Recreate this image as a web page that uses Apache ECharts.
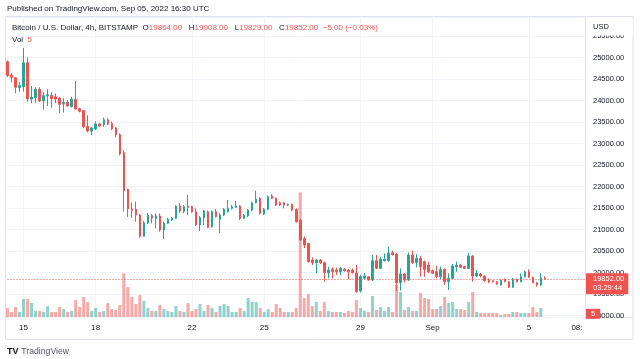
<!DOCTYPE html>
<html><head><meta charset="utf-8">
<script src="https://cdn.jsdelivr.net/npm/echarts@6/dist/echarts.min.js"></script>
<style>html,body{margin:0;padding:0;background:#fff}#c{width:640px;height:359px}</style>
</head><body><div id="c"></div>
<script>
// 4h candles, Bitstamp BTC/USD, from 2022-08-14 08:00 UTC to 2022-09-05 16:00 UTC
const opens=[24902,24593,24530,24297,24321,24879,24035,24065,24260,23995,
24112,24121,24088,24051,23918,23965,23856,24028,23809,23763,
23400,23291,23337,23453,23437,23553,23470,23360,23204,22786,
21935,21477,21465,21337,20842,21158,21321,21256,21314,20988,
21144,21221,21260,21546,21423,21546,21530,21414,21104,21274,
21414,21065,21414,21237,21337,21414,21493,21516,21546,21260,
21314,21453,21623,21725,21360,21470,21779,21725,21623,21623,
21569,21586,21470,21221,20790,20679,20290,20228,20290,20228,
19995,20074,20058,20018,20081,20058,20058,19988,19570,19865,
19902,19826,20274,20097,20274,20274,20460,20430,19763,19965,
19826,20407,20228,20330,20251,20174,20042,20018,19902,20074,
19786,19865,20135,20174,20135,20097,20384,19918,19965,19918,
19826,19809,19786,19709,19842,19786,19655,19842,19786,19902,
20018,19888,19763,19709,19864];
const closes=[24577,24539,24307,24344,24879,24035,24081,24260,23988,24112,
24135,24042,24035,23911,23958,23872,24028,23802,23749,23391,
23291,23360,23453,23407,23553,23453,23344,23204,22756,21902,
21477,21446,21337,20842,21158,21330,21267,21314,20988,21144,
21237,21260,21546,21430,21530,21516,21414,21104,21274,21430,
21046,21414,21298,21337,21470,21493,21530,21546,21260,21337,
21453,21623,21702,21377,21470,21763,21725,21569,21569,21569,
21586,21453,21181,20756,20639,20251,20228,20290,20228,19995,
20058,20018,20018,20097,20042,20018,19995,19553,19907,19918,
19826,20274,20097,20314,20314,20453,20414,19763,19965,19826,
20407,20228,20330,20135,20074,20018,19981,19902,20074,19786,
19865,20151,20174,20121,20097,20384,19918,19981,19918,19809,
19786,19786,19732,19826,19786,19655,19842,19786,19902,20018,
19888,19763,19709,19865,19852];
const lows=[24546,24423,24167,24204,24204,23972,23935,23949,23965,23795,
23872,23832,23935,23702,23716,23856,23842,23779,23725,23353,
23260,23197,23314,23384,23391,23430,23314,23144,22725,21414,
21290,21267,21181,20809,20830,21128,21144,21028,20949,20779,
21128,21197,21244,21391,21377,21337,21391,21081,20965,21104,
21028,21046,21279,20918,21314,21395,21465,21500,21221,21244,
21291,21430,21604,21349,21337,21453,21709,21546,21546,21493,
21546,21430,21162,20732,20570,20232,20174,19981,20197,19786,
19865,19865,19942,19942,20023,19842,19976,19535,19535,19826,
19809,19802,20074,20081,20256,20256,20395,19570,19577,19763,
19802,20197,20121,19902,19902,19981,19965,19865,19842,19709,
19593,19849,20018,20104,20081,20081,19786,19888,19888,19790,
19749,19767,19716,19693,19772,19639,19639,19767,19772,19888,
19872,19749,19670,19686,19829];
const highs=[24930,24632,24546,24430,25221,25005,24337,24307,24307,24204,
24260,24191,24167,24088,24051,24011,24088,24453,23832,23779,
23656,23384,23516,23477,23600,23586,23507,23384,23237,22849,
21942,21628,21651,21360,21197,21384,21360,21372,21372,21181,
21267,21291,21569,21609,21569,21802,21558,21493,21314,21453,
21442,21442,21477,21372,21500,21686,21569,21670,21569,21360,
21477,21646,21902,21756,21500,21791,21825,21744,21651,21639,
21604,21604,21488,21244,20837,20686,20353,20314,20314,20256,
20135,20121,20111,20135,20104,20081,20093,20174,19942,19981,
19918,20407,20407,20372,20442,20600,20507,20453,20097,19988,
20465,20507,20430,20384,20279,20251,20070,20151,20135,20093,
19981,20197,20251,20197,20151,20460,20407,20058,19988,19930,
19865,19826,19802,19837,19860,19802,19872,19860,19981,20046,
20074,19907,19779,19981,19908];
const volumes=[270,150,300,150,540,540,420,180,180,150,
330,150,150,300,240,150,180,510,300,600,
450,180,270,150,180,420,240,210,360,1320,
900,600,390,660,480,270,180,180,360,240,
180,150,330,180,150,420,180,240,390,180,
360,270,150,330,390,330,150,150,270,180,
570,450,450,270,150,240,150,390,270,150,
150,150,270,3750,570,690,330,450,180,450,
180,150,150,150,120,180,150,510,270,180,
150,630,210,300,180,300,150,960,750,210,
300,180,180,720,570,540,240,240,330,600,
420,450,240,240,210,450,750,150,120,120,
120,120,120,60,90,90,150,150,120,120,
120,300,150,270,5];
const tickIndex=[4,22,46,64,88,106,130,142];
const tickText=['15','18','22','25','29','Sep','5','08:'];
const lastPrice=19852, lastVolume=5, countdown='03:29:44';
const legendO=19864, legendH=19908, legendL=19829, legendC=19852, legendChg='\u22125.00 (\u22120.03%)';

const categories=[];
const startUTC=Date.UTC(2022,7,14,8);
for(let k=0;k<145;k++){const d=new Date(startUTC+k*4*3600000);categories.push(d.toISOString().slice(0,16).replace('T',' '));}
const candleData=opens.map((o,i)=>[o,closes[i],lows[i],highs[i]]);
const volData=volumes.map((v,i)=>({value:v,itemStyle:{color:closes[i]>=opens[i]?'rgba(38,166,154,0.5)':'rgba(239,83,80,0.5)'}}));

const FONT='"Liberation Sans", Arial, sans-serif';
const UP='#26a69a', DOWN='#ef5350', TXT='#131722', GRID='#f0f3fa', BORDER='#e0e3eb';

const chart=echarts.init(document.getElementById('c'),null,{renderer:'canvas'});
chart.setOption({
  animation:false,
  grid:{left:7.5,right:55,top:17,bottom:42,containLabel:false,outerBoundsMode:'none'},
  xAxis:{type:'category',data:categories,boundaryGap:false,
    axisLine:{show:false},axisTick:{show:false},
    axisLabel:{interval:(i)=>tickIndex.indexOf(i)>=0,
      formatter:(v)=>{const k=tickIndex.indexOf(categories.indexOf(v));return k>=0?tickText[k]:'';},
      color:TXT,fontSize:8,fontFamily:FONT,margin:7},
    splitLine:{show:true,interval:(i)=>tickIndex.indexOf(i)>=0&&i<=134,lineStyle:{color:GRID,width:1}}},
  yAxis:[{type:'value',position:'right',min:18965,max:25942,splitNumber:14,
    axisLine:{show:true,lineStyle:{color:BORDER}},axisTick:{show:false},
    axisLabel:{formatter:(v)=>(Math.abs(v%500)<1e-6?v.toFixed(2):''),color:TXT,fontSize:7.5,fontFamily:FONT,margin:8,showMinLabel:true,showMaxLabel:true},
    splitLine:{show:true,lineStyle:{color:GRID,width:1}}},
   {type:'value',min:0,max:9030,show:false,splitLine:{show:false}}],
  series:[
   {type:'bar',yAxisIndex:1,data:volData,barWidth:3,silent:true,z:1,
    markLine:{symbol:['none','none'],silent:true,animation:false,z:20,
      data:[{yAxis:lastVolume}],lineStyle:{color:'rgba(0,0,0,0)',width:0},
      label:{show:true,position:'end',distance:1,formatter:String(lastVolume),
        color:'#fff',backgroundColor:DOWN,padding:[1,5,1,5],fontSize:7.5,fontFamily:FONT,offset:[0,-3]}}},
   {type:'candlestick',data:candleData,barWidth:2,clip:false,z:3,
    itemStyle:{color:UP,color0:DOWN,borderColor:UP,borderColor0:DOWN,borderWidth:1},
    markLine:{symbol:['none','none'],silent:true,animation:false,precision:2,
      data:[{yAxis:lastPrice}],
      lineStyle:{color:DOWN,type:[1,2],width:1,opacity:1},
      label:{show:true,position:'end',distance:1,
        formatter:lastPrice.toFixed(2)+'\n'+countdown,
        color:'#fff',backgroundColor:DOWN,padding:[1,4,2,7],lineHeight:9,fontSize:7.5,fontFamily:FONT,offset:[0,5]}}}
  ],
  graphic:[
   {type:'rect',shape:{x:5.5,y:16.5,width:627.5,height:323},style:{fill:null,stroke:BORDER,lineWidth:1},silent:true,z:0},
   {type:'line',shape:{x1:5.5,y1:317.5,x2:633,y2:317.5},style:{stroke:BORDER,lineWidth:1},silent:true},
   {type:'rect',shape:{x:586,y:17,width:46.5,height:18.5},style:{fill:'#fff'},silent:true,z:50},
   {type:'text',style:{x:593,y:27,text:'USD',fill:TXT,font:'7.5px '+FONT,textVerticalAlign:'middle'},silent:true,z:51},
   {type:'text',style:{x:7,y:9,text:'Published on TradingView.com, Sep 05, 2022 16:30 UTC',fill:TXT,font:'8px '+FONT,textVerticalAlign:'middle'},silent:true,z:51},
   {type:'text',style:{x:12,y:27.5,textVerticalAlign:'middle',font:'8px '+FONT,
     text:'{g|Bitcoin / U.S. Dollar, 4h, BITSTAMP  O}{r|'+legendO.toFixed(2)+'}{g|   H}{r|'+legendH.toFixed(2)+'}{g|   L}{r|'+legendL.toFixed(2)+'}{g|   C}{r|'+legendC.toFixed(2)+'}{r|  '+legendChg+'}',
     rich:{g:{fill:TXT,font:'8px '+FONT},r:{fill:DOWN,font:'8px '+FONT}}},silent:true,z:51},
   {type:'text',style:{x:12,y:39.7,textVerticalAlign:'middle',font:'8px '+FONT,
     text:'{g|Vol}  {r|'+lastVolume+'}',rich:{g:{fill:TXT,font:'8px '+FONT},r:{fill:DOWN,font:'8px '+FONT}}},silent:true,z:51},
   {type:'text',style:{x:7,y:352,text:'TV',fill:TXT,font:'bold 9px '+FONT,textVerticalAlign:'middle'},silent:true},
   {type:'text',style:{x:21.3,y:352,text:'TradingView',fill:'#50535e',font:'8.7px '+FONT,textVerticalAlign:'middle'},silent:true}
  ]
});
</script></body></html>
